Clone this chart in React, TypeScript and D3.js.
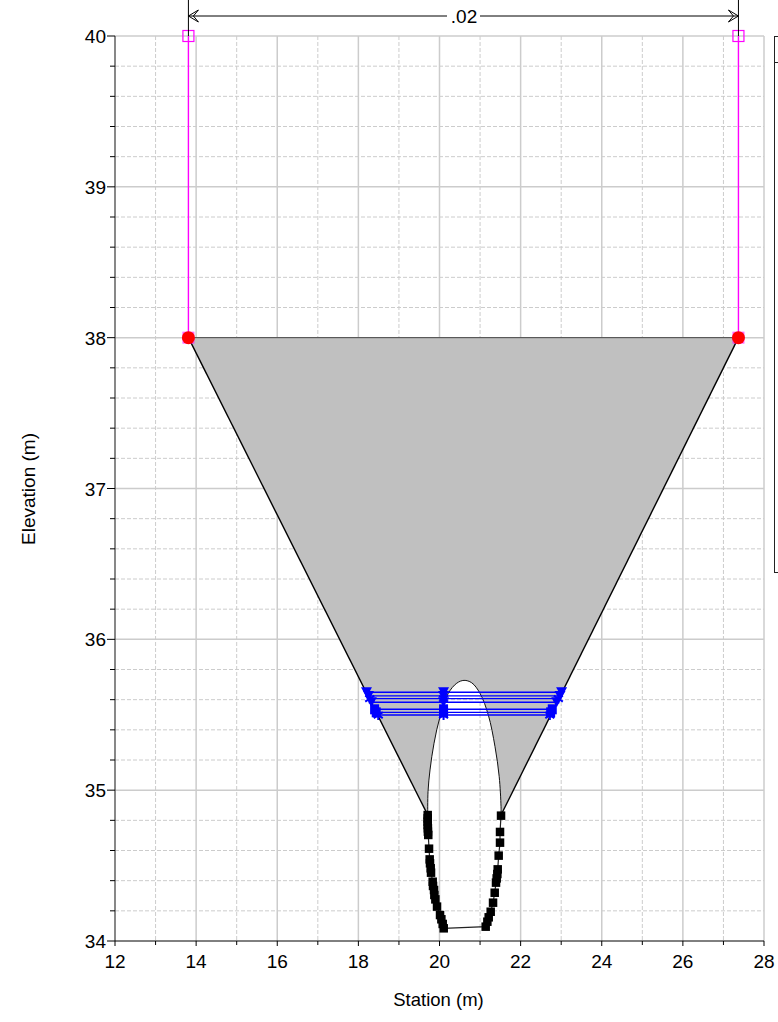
import React from "react";
import * as d3 from "d3";

const W = 778, H = 1022;
const FONT = "'Liberation Sans', Arial, sans-serif";

const xMajor = [12, 14, 16, 18, 20, 22, 24, 26, 28];
const xMinor = [13, 15, 17, 19, 21, 23, 25, 27];
const yMajor = [34, 35, 36, 37, 38, 39, 40];
const yMinor = [34.2, 34.4, 34.6, 34.8, 35.2, 35.4, 35.6, 35.8, 36.2, 36.4, 36.6, 36.8, 37.2, 37.4, 37.6, 37.8, 38.2, 38.4, 38.6, 38.8, 39.2, 39.4, 39.6, 39.8];

const bankStations = [13.81, 27.37];
const bankTop = 38;
const limitTop = 40;

const leftToe = [19.71, 34.835];
const rightToe = [21.517, 34.835];

const archStation = [19.717, 19.766, 19.865, 20.013, 20.217, 20.425, 20.604, 20.794, 20.999, 21.204, 21.369, 21.472, 21.517];
const archElev = [34.99, 35.134, 35.311, 35.487, 35.642, 35.709, 35.728, 35.712, 35.642, 35.498, 35.288, 35.089, 34.89];

const invertStation = [19.709, 19.709, 19.709, 19.709, 19.714, 19.714, 19.723, 19.742, 19.758, 19.766, 19.783, 19.791, 19.832, 19.84, 19.865, 19.873, 19.898, 19.939, 20.013, 20.046, 20.079, 20.104, 21.139, 21.18, 21.213, 21.262, 21.32, 21.361, 21.393, 21.41, 21.426, 21.435, 21.459, 21.492, 21.492, 21.517];
const invertElev = [34.835, 34.813, 34.791, 34.769, 34.747, 34.725, 34.703, 34.612, 34.541, 34.515, 34.482, 34.453, 34.393, 34.365, 34.338, 34.305, 34.276, 34.228, 34.172, 34.144, 34.113, 34.084, 34.095, 34.128, 34.157, 34.194, 34.254, 34.32, 34.387, 34.415, 34.444, 34.475, 34.566, 34.652, 34.723, 34.831];

const waterElev = [35.649, 35.625, 35.607, 35.583, 35.536, 35.516, 35.498];
const waterLeft = [18.2, 18.25, 18.28, 18.32, 18.4, 18.44, 18.49];
const waterRight = [23.01, 22.97, 22.93, 22.89, 22.78, 22.74, 22.72];
const waterMid = 20.1;
const waterMarker = ["down", "down", "star", "down", "square", "square", "star"];

const x = d3.scaleLinear().domain([12, 28]).range([115, 764]);
const y = d3.scaleLinear().domain([34, 40]).range([941, 36]);

const line = d3.line<number[]>().x((d) => x(d[0])).y((d) => y(d[1]));
const smooth = d3.line<number[]>().x((d) => x(d[0])).y((d) => y(d[1])).curve(d3.curveCatmullRom);

const arch = archStation.map((s, i) => [s, archElev[i]]);
const invert = invertStation.map((s, i) => [s, invertElev[i]]);

const greyPath =
  line([[bankStations[0], bankTop], [bankStations[1], bankTop], rightToe])! +
  "L" + smooth([rightToe, ...arch.slice().reverse(), leftToe])!.slice(1) + "Z";

const GRID = "#cccccc";

function BlueMarker({ px, py, kind }: { px: number; py: number; kind: string }) {
  const c = "#0000ff";
  if (kind === "square") return <rect x={px - 4.5} y={py - 5} width={9} height={10} fill={c} />;
  if (kind === "down") return <path d={`M${px - 5.5},${py - 5}L${px + 5.5},${py - 5}L${px},${py + 5}Z`} fill={c} />;
  return <path d={`M${px - 4.5},${py - 3}L${px + 4.5},${py + 3}M${px + 4.5},${py - 3}L${px - 4.5},${py + 3}M${px},${py - 5}V${py + 5}`} stroke={c} strokeWidth={2} fill="none" />;
}

export default function App() {
  const dimY = 16;
  const [sL, sR] = bankStations;
  const arrow = (px: number, dir: number) =>
    `M${px + dir * 10},${dimY - 6}L${px},${dimY}L${px + dir * 10},${dimY + 6}M${px + dir * 10},${dimY - 6}L${px + dir * 5},${dimY}L${px + dir * 10},${dimY + 6}`;
  return (
    <svg width={W} height={H} viewBox={`0 0 ${W} ${H}`} style={{ position: "absolute", left: 0, top: 0, display: "block" }} fontFamily={FONT}>
      <rect width={W} height={H} fill="#fff" />

      {/* grid */}
      {xMinor.map((v) => <line key={v} x1={x(v)} x2={x(v)} y1={y(40)} y2={y(34)} stroke={GRID} strokeDasharray="4 2" />)}
      {yMinor.map((v) => <line key={v} x1={x(12)} x2={x(28)} y1={y(v)} y2={y(v)} stroke={GRID} strokeDasharray="4 2" />)}
      {xMajor.slice(1).map((v) => <line key={v} x1={x(v)} x2={x(v)} y1={y(40)} y2={y(34)} stroke={GRID} strokeWidth={1.5} />)}
      {yMajor.slice(1).map((v) => <line key={v} x1={x(12)} x2={x(28)} y1={y(v)} y2={y(v)} stroke={GRID} strokeWidth={1.5} />)}

      {/* section */}
      <path d={greyPath} fill="#c0c0c0" stroke="none" />
      <line x1={x(sL)} x2={x(sR)} y1={y(bankTop)} y2={y(bankTop)} stroke="#444" strokeWidth={1} />
      <path d={line([[sL, bankTop], leftToe])!} stroke="#000" fill="none" strokeWidth={1.4} />
      <path d={line([[sR, bankTop], rightToe])!} stroke="#000" fill="none" strokeWidth={1.4} />
      <path d={smooth([leftToe, ...arch, rightToe])!} stroke="#111" fill="none" strokeWidth={1} />
      <path d={line(invert)!} stroke="#222" fill="none" strokeWidth={1.2} />
      {invert.map((d, i) => <rect key={i} x={x(d[0]) - 4.25} y={y(d[1]) - 4.25} width={8.5} height={8.5} fill="#000" />)}

      {/* water surfaces */}
      {waterElev.map((e, i) => (
        <g key={e}>
          <line x1={x(waterLeft[i])} x2={x(waterRight[i])} y1={y(e)} y2={y(e)} stroke="#0000ff" strokeWidth={1.4} />
          {[waterLeft[i], waterMid, waterRight[i]].map((s) => <BlueMarker key={s} px={x(s)} py={y(e)} kind={waterMarker[i]} />)}
        </g>
      ))}

      {/* banks and limits */}
      {bankStations.map((s) => (
        <g key={s}>
          <line x1={x(s)} x2={x(s)} y1={y(limitTop)} y2={y(bankTop)} stroke="#ff00ff" strokeWidth={1.4} />
          <rect x={x(s) - 5.5} y={y(limitTop) - 5.5} width={11} height={11} fill="#fff" fillOpacity={0} stroke="#ff00ff" strokeWidth={1.2} />
          <rect x={x(s) - 6} y={y(bankTop) - 6} width={12} height={12} fill="#ff00ff" fillOpacity={0.6} />
          <circle cx={x(s)} cy={y(bankTop)} r={6.5} fill="#ff0000" />
          <line x1={x(s)} x2={x(s)} y1={0} y2={y(limitTop)} stroke="#000" strokeWidth={1} />
          <path d={arrow(x(s), s === sL ? 1 : -1)} fill="none" stroke="#000" strokeWidth={1} />
        </g>
      ))}
      <line x1={x(sL)} x2={x(sR)} y1={dimY} y2={dimY} stroke="#000" strokeWidth={1} />
      <rect x={447} y={dimY - 9} width={33} height={18} fill="#fff" />
      <text x={464} y={dimY + 7} fontSize={19} textAnchor="middle" fill="#000">.02</text>

      {/* axes */}
      <line x1={x(12)} x2={x(12)} y1={y(40)} y2={y(34)} stroke="#555" strokeWidth={1.4} />
      <line x1={x(12)} x2={x(28)} y1={y(34)} y2={y(34)} stroke="#000" strokeWidth={1} />
      {yMajor.map((v) => (
        <g key={v}>
          <line x1={x(12) - 8} x2={x(12)} y1={y(v)} y2={y(v)} stroke="#000" />
          <text x={x(12) - 9} y={y(v) + 7} fontSize={19} textAnchor="end" fill="#000">{v}</text>
        </g>
      ))}
      {yMinor.map((v) => <line key={v} x1={x(12) - 5} x2={x(12)} y1={y(v)} y2={y(v)} stroke="#000" />)}
      {xMajor.map((v) => (
        <g key={v}>
          <line x1={x(v)} x2={x(v)} y1={y(34)} y2={y(34) + 5} stroke="#000" />
          <text x={x(v)} y={y(34) + 27} fontSize={19} textAnchor="middle" fill="#000">{v}</text>
        </g>
      ))}
      {xMinor.map((v) => <line key={v} x1={x(v)} x2={x(v)} y1={y(34)} y2={y(34) + 4} stroke="#000" />)}

      <text x={438.5} y={1006} fontSize={18.5} textAnchor="middle" fill="#000">Station (m)</text>
      <text transform={`translate(35,489) rotate(-90)`} fontSize={19} textAnchor="middle" fill="#000">Elevation (m)</text>

      {/* legend box, cut off by the page edge */}
      <rect x={774.5} y={36.5} width={20} height={536} fill="#fff" stroke="#222" strokeWidth={1} />
      <line x1={774.5} x2={W} y1={62.5} y2={62.5} stroke="#222" strokeWidth={1} />
    </svg>
  );
}
